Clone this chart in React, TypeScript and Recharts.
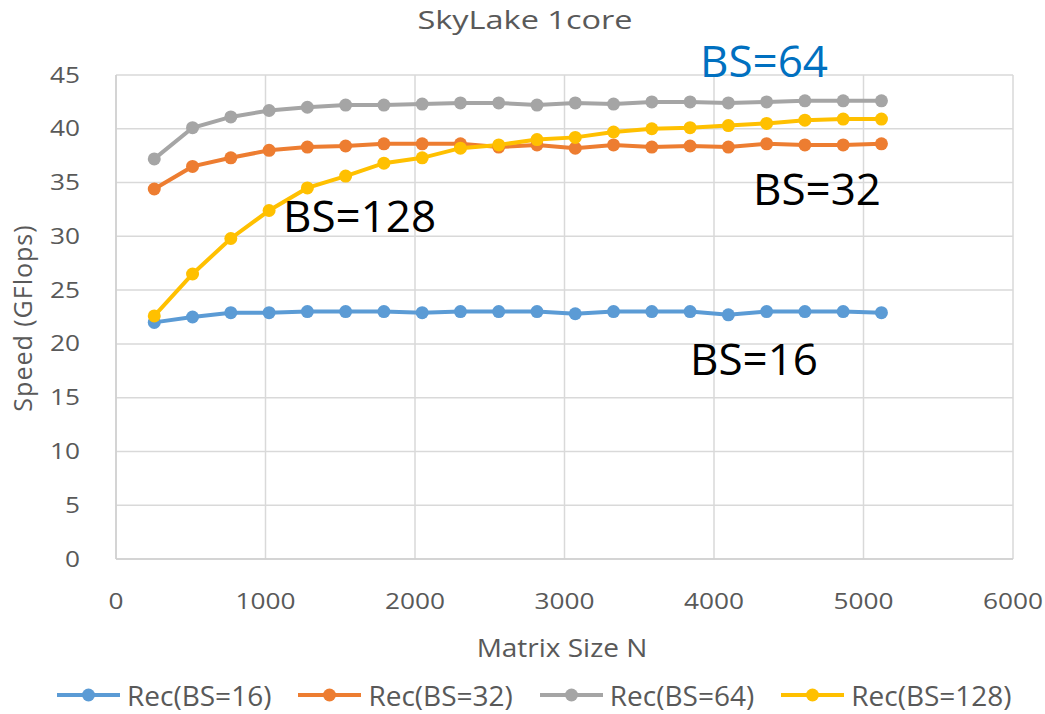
import { LineChart, Line, XAxis, YAxis, CartesianGrid, Legend } from 'recharts'

// Matrix sizes (N = 256 * k)
const sizes = [256, 512, 768, 1024, 1280, 1536, 1792, 2048, 2304, 2560, 2816, 3072, 3328, 3584, 3840, 4096, 4352, 4608, 4864, 5120]

// GFlops per block size
const bs16 = [22.0, 22.5, 22.9, 22.9, 23.0, 23.0, 23.0, 22.9, 23.0, 23.0, 23.0, 22.8, 23.0, 23.0, 23.0, 22.7, 23.0, 23.0, 23.0, 22.9]
const bs32 = [34.4, 36.5, 37.3, 38.0, 38.3, 38.4, 38.6, 38.6, 38.6, 38.3, 38.5, 38.2, 38.5, 38.3, 38.4, 38.3, 38.6, 38.5, 38.5, 38.6]
const bs64 = [37.2, 40.1, 41.1, 41.7, 42.0, 42.2, 42.2, 42.3, 42.4, 42.4, 42.2, 42.4, 42.3, 42.5, 42.5, 42.4, 42.5, 42.6, 42.6, 42.6]
const bs128 = [22.6, 26.5, 29.8, 32.4, 34.5, 35.6, 36.8, 37.3, 38.2, 38.5, 39.0, 39.2, 39.7, 40.0, 40.1, 40.3, 40.5, 40.8, 40.9, 40.9]

const xTicks = [0, 1000, 2000, 3000, 4000, 5000, 6000]
const yTicks = [0, 5, 10, 15, 20, 25, 30, 35, 40, 45]

const series = [
  { key: 'bs16', name: 'Rec(BS=16)', color: '#5B9BD5' },
  { key: 'bs32', name: 'Rec(BS=32)', color: '#ED7D31' },
  { key: 'bs64', name: 'Rec(BS=64)', color: '#A5A5A5' },
  { key: 'bs128', name: 'Rec(BS=128)', color: '#FFC000' },
]

const data = sizes.map((n, i) => ({ n, bs16: bs16[i], bs32: bs32[i], bs64: bs64[i], bs128: bs128[i] }))

const FONT = '"Open Sans", sans-serif'
const TEXT_GREY = '#595959'
const GRID = '#d9d9d9'

function XTick({ x, y, payload }: any) {
  return (
    <text
      transform={`translate(${x},${y + 48}) scale(1.25,1)`}
      textAnchor="middle"
      fontFamily={FONT}
      fontSize={21}
      fill={TEXT_GREY}
    >
      {payload.value}
    </text>
  )
}

function YTick({ x, y, payload }: any) {
  return (
    <text
      transform={`translate(${x - 34},${y + 7.5}) scale(1.25,1)`}
      textAnchor="end"
      fontFamily={FONT}
      fontSize={21}
      fill={TEXT_GREY}
    >
      {payload.value}
    </text>
  )
}

function LegendContent() {
  return (
    <div style={{ display: 'flex', gap: 27, alignItems: 'center', height: 30 }}>
      {series.map((s) => (
        <div key={s.key} style={{ display: 'flex', alignItems: 'center', gap: 7, height: 30 }}>
          <svg width={63} height={20}>
            <line x1={0} y1={10} x2={63} y2={10} stroke={s.color} strokeWidth={4} />
            <circle cx={31.5} cy={10} r={6.5} fill={s.color} />
          </svg>
          <span style={{ fontFamily: FONT, fontSize: 28, lineHeight: '30px', color: TEXT_GREY }}>{s.name}</span>
        </div>
      ))}
    </div>
  )
}

export default function App() {
  return (
    <div style={{ position: 'absolute', left: 0, top: 0, width: 1045, height: 714, background: '#fff' }}>
      <LineChart width={1045} height={714} data={data} margin={{ top: 75, right: 32, left: 0, bottom: 95 }}>
        <CartesianGrid stroke={GRID} strokeWidth={1.5} />
        <XAxis
          dataKey="n"
          type="number"
          domain={[0, 6000]}
          ticks={xTicks}
          tick={(p: any) => <XTick {...p} />}
          tickLine={false}
          tickSize={0}
          height={60}
          axisLine={{ stroke: '#cfcfcf', strokeWidth: 1.5 }}
          label={() => (
            <text
              transform="translate(562,657) scale(1.12,1)"
              textAnchor="middle"
              fontFamily={FONT}
              fontSize={25}
              fill={TEXT_GREY}
            >
              Matrix Size N
            </text>
          )}
        />
        <YAxis
          type="number"
          domain={[0, 45]}
          ticks={yTicks}
          tick={(p: any) => <YTick {...p} />}
          tickLine={false}
          tickSize={0}
          width={116}
          axisLine={{ stroke: '#cfcfcf', strokeWidth: 1.5 }}
          label={() => (
            <text
              x={32}
              y={318}
              transform="rotate(-90 32 318)"
              textAnchor="middle"
              fontFamily={FONT}
              fontSize={25}
              letterSpacing={1}
              fill={TEXT_GREY}
            >
              Speed (GFlops)
            </text>
          )}
        />
        <Legend
          layout="horizontal"
          verticalAlign="middle"
          align="center"
          content={() => <LegendContent />}
          wrapperStyle={{ top: 680, left: 57, width: 1000 }}
        />
        {series.map((s) => (
          <Line
            key={s.key}
            dataKey={s.key}
            name={s.name}
            stroke={s.color}
            strokeWidth={4}
            dot={{ r: 6.5, fill: s.color, stroke: s.color, strokeWidth: 0 }}
            activeDot={false}
            isAnimationActive={false}
          />
        ))}
      </LineChart>
      <svg width={1045} height={714} style={{ position: 'absolute', left: 0, top: 0, pointerEvents: 'none' }}>
        <text
          transform="translate(525,29) scale(1.25,1)"
          textAnchor="middle"
          fontFamily={FONT}
          fontSize={26}
          fill={TEXT_GREY}
        >
          SkyLake 1core
        </text>
        <text x={700} y={77} fontFamily={FONT} fontSize={44} fill="#0070C0">BS=64</text>
        <text x={753} y={205} fontFamily={FONT} fontSize={44} fill="#000">BS=32</text>
        <text x={283} y={232} fontFamily={FONT} fontSize={44} fill="#000">BS=128</text>
        <text x={690} y={375} fontFamily={FONT} fontSize={44} fill="#000">BS=16</text>
      </svg>
    </div>
  )
}
